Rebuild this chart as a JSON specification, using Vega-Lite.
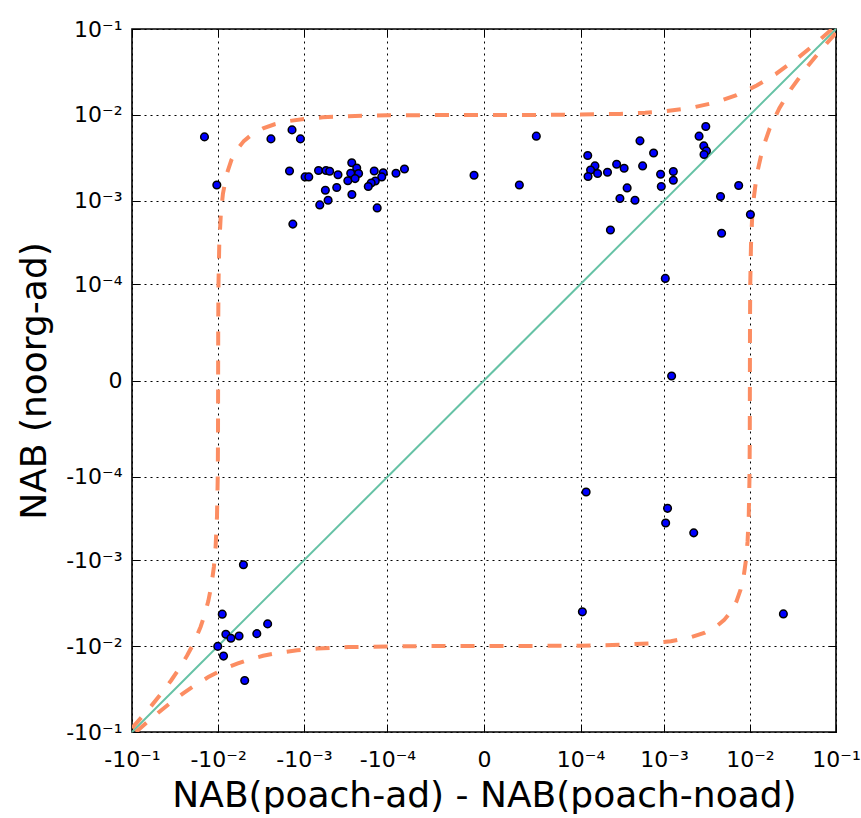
{
  "$schema": "https://vega.github.io/schema/vega-lite/v6.json",
  "width": 704,
  "height": 703,
  "autosize": {"type": "none"},
  "padding": {"left": 132, "top": 29, "right": 25, "bottom": 86},
  "background": "white",
  "config": {
    "view": {"stroke": "black", "strokeWidth": 1.6},
    "axis": {
      "labelFont": "DejaVu Sans",
      "labelFontSize": 22,
      "labelColor": "black",
      "titleFont": "DejaVu Sans",
      "titleFontSize": 36,
      "titleFontWeight": "normal",
      "titleColor": "black",
      "domain": false,
      "tickColor": "black",
      "tickWidth": 1,
      "tickSize": -8,
      "gridColor": "black",
      "gridDash": [2, 4],
      "gridWidth": 1,
      "gridOpacity": 1
    }
  },
  "datasets": {
    "pts": [
      {"x": -0.0144, "y": 0.00556}, {"x": -0.01035, "y": 0.00153}, {"x": -0.00243, "y": 0.00527},
      {"x": -0.00138, "y": 0.00671}, {"x": -0.0011, "y": 0.00527}, {"x": -0.001476, "y": 0.00223},
      {"x": -0.000971, "y": 0.0019}, {"x": -0.000879, "y": 0.0019}, {"x": -0.000675, "y": 0.002254},
      {"x": -0.000551, "y": 0.002254}, {"x": -0.000499, "y": 0.002213}, {"x": -0.000398, "y": 0.002014},
      {"x": -0.000561, "y": 0.001327}, {"x": -0.000412, "y": 0.00143}, {"x": -0.000653, "y": 0.000893},
      {"x": -0.000521, "y": 0.001014}, {"x": -0.000273, "y": 0.00278}, {"x": -0.000238, "y": 0.002415},
      {"x": -0.000226, "y": 0.00208}, {"x": -0.000281, "y": 0.002094}, {"x": -0.000304, "y": 0.001714},
      {"x": -0.000249, "y": 0.001816}, {"x": -0.000272, "y": 0.001185}, {"x": -0.000146, "y": 0.00223},
      {"x": -0.000113, "y": 0.002123}, {"x": -0.000118, "y": 0.0019}, {"x": -0.0001416, "y": 0.001703},
      {"x": -0.000159, "y": 0.001614}, {"x": -0.0001726, "y": 0.001466}, {"x": -0.0001343, "y": 0.000824},
      {"x": -0.000078, "y": 0.002094}, {"x": -0.0000605, "y": 0.00235}, {"x": -0.0000025, "y": 0.001986},
      {"x": 0.0000129, "y": 0.00153}, {"x": 0.000025, "y": 0.00567}, {"x": 0.000123, "y": 0.003373},
      {"x": 0.000151, "y": 0.002553}, {"x": 0.0001334, "y": 0.00229}, {"x": 0.0001241, "y": 0.00192},
      {"x": 0.0001626, "y": 0.00208}, {"x": 0.0002143, "y": 0.002153}, {"x": 0.000276, "y": 0.002667},
      {"x": 0.000339, "y": 0.0024}, {"x": 0.000522, "y": 0.005}, {"x": 0.000755, "y": 0.003614},
      {"x": 0.000561, "y": 0.002553}, {"x": 0.000368, "y": 0.001413}, {"x": 0.000302, "y": 0.001062},
      {"x": 0.000456, "y": 0.001014}, {"x": 0.0002325, "y": 0.000452}, {"x": 0.000912, "y": 0.00204},
      {"x": 0.000929, "y": 0.001469}, {"x": 0.001285, "y": 0.0022}, {"x": 0.001285, "y": 0.001738},
      {"x": 0.00307, "y": 0.00736}, {"x": 0.002565, "y": 0.00567}, {"x": 0.00291, "y": 0.004365},
      {"x": 0.003126, "y": 0.00382}, {"x": 0.00293, "y": 0.003467}, {"x": 0.00741, "y": 0.001507},
      {"x": 0.00456, "y": 0.00112}, {"x": 0.01014, "y": 0.00069}, {"x": 0.00469, "y": 0.000414},
      {"x": 0.001035, "y": 0.0001178}, {"x": 0.001227, "y": 0.00000105}, {"x": 0.0001175, "y": -0.0001538},
      {"x": 0.0011, "y": -0.000243}, {"x": 0.001045, "y": -0.000364}, {"x": 0.002223, "y": -0.000476},
      {"x": 0.0001055, "y": -0.004}, {"x": 0.0245, "y": -0.00423}, {"x": -0.00508, "y": -0.00113},
      {"x": -0.00895, "y": -0.00426}, {"x": -0.00813, "y": -0.0073}, {"x": -0.0071, "y": -0.00813},
      {"x": -0.00571, "y": -0.00764}, {"x": -0.00355, "y": -0.00718}, {"x": -0.002655, "y": -0.00553},
      {"x": -0.0101, "y": -0.0101}, {"x": -0.00865, "y": -0.0131}, {"x": -0.00491, "y": -0.0252},
      {"x": -0.00135, "y": 0.000531}
    ],
    "curves": [
      {"c": "A", "x": -0.1, "y": -0.09}, {"c": "A", "x": -0.08, "y": -0.07}, {"c": "A", "x": -0.06, "y": -0.05},
      {"c": "A", "x": -0.045, "y": -0.035}, {"c": "A", "x": -0.035, "y": -0.025}, {"c": "A", "x": -0.028, "y": -0.018},
      {"c": "A", "x": -0.023, "y": -0.013}, {"c": "A", "x": -0.02, "y": -0.01}, {"c": "A", "x": -0.018, "y": -0.008},
      {"c": "A", "x": -0.016, "y": -0.006}, {"c": "A", "x": -0.0145, "y": -0.0045}, {"c": "A", "x": -0.013, "y": -0.003},
      {"c": "A", "x": -0.012, "y": -0.002}, {"c": "A", "x": -0.0112, "y": -0.0012}, {"c": "A", "x": -0.0107, "y": -0.0007},
      {"c": "A", "x": -0.0103, "y": -0.0003}, {"c": "A", "x": -0.0101, "y": -0.0001}, {"c": "A", "x": -0.01003, "y": -0.00003},
      {"c": "A", "x": -0.01, "y": 0}, {"c": "A", "x": -0.00997, "y": 0.00003}, {"c": "A", "x": -0.0099, "y": 0.0001},
      {"c": "A", "x": -0.0097, "y": 0.0003}, {"c": "A", "x": -0.0093, "y": 0.0007}, {"c": "A", "x": -0.0088, "y": 0.0012},
      {"c": "A", "x": -0.008, "y": 0.002}, {"c": "A", "x": -0.007, "y": 0.003}, {"c": "A", "x": -0.006, "y": 0.004},
      {"c": "A", "x": -0.005, "y": 0.005}, {"c": "A", "x": -0.004, "y": 0.006}, {"c": "A", "x": -0.003, "y": 0.007},
      {"c": "A", "x": -0.0022, "y": 0.0078}, {"c": "A", "x": -0.0015, "y": 0.0085}, {"c": "A", "x": -0.001, "y": 0.009},
      {"c": "A", "x": -0.0006, "y": 0.0094}, {"c": "A", "x": -0.0003, "y": 0.0097}, {"c": "A", "x": -0.0001, "y": 0.0099},
      {"c": "A", "x": -0.00003, "y": 0.00997}, {"c": "A", "x": 0, "y": 0.01}, {"c": "A", "x": 0.00003, "y": 0.01003},
      {"c": "A", "x": 0.0001, "y": 0.0101}, {"c": "A", "x": 0.0003, "y": 0.0103}, {"c": "A", "x": 0.0006, "y": 0.0106},
      {"c": "A", "x": 0.001, "y": 0.011}, {"c": "A", "x": 0.002, "y": 0.012}, {"c": "A", "x": 0.004, "y": 0.014},
      {"c": "A", "x": 0.007, "y": 0.017}, {"c": "A", "x": 0.012, "y": 0.022}, {"c": "A", "x": 0.02, "y": 0.03},
      {"c": "A", "x": 0.035, "y": 0.045}, {"c": "A", "x": 0.055, "y": 0.065}, {"c": "A", "x": 0.075, "y": 0.085},
      {"c": "A", "x": 0.09, "y": 0.1},
      {"c": "B", "y": -0.1, "x": -0.09}, {"c": "B", "y": -0.08, "x": -0.07}, {"c": "B", "y": -0.06, "x": -0.05},
      {"c": "B", "y": -0.045, "x": -0.035}, {"c": "B", "y": -0.035, "x": -0.025}, {"c": "B", "y": -0.028, "x": -0.018},
      {"c": "B", "y": -0.023, "x": -0.013}, {"c": "B", "y": -0.02, "x": -0.01}, {"c": "B", "y": -0.018, "x": -0.008},
      {"c": "B", "y": -0.016, "x": -0.006}, {"c": "B", "y": -0.0145, "x": -0.0045}, {"c": "B", "y": -0.013, "x": -0.003},
      {"c": "B", "y": -0.012, "x": -0.002}, {"c": "B", "y": -0.0112, "x": -0.0012}, {"c": "B", "y": -0.0107, "x": -0.0007},
      {"c": "B", "y": -0.0103, "x": -0.0003}, {"c": "B", "y": -0.0101, "x": -0.0001}, {"c": "B", "y": -0.01003, "x": -0.00003},
      {"c": "B", "y": -0.01, "x": 0}, {"c": "B", "y": -0.00997, "x": 0.00003}, {"c": "B", "y": -0.0099, "x": 0.0001},
      {"c": "B", "y": -0.0097, "x": 0.0003}, {"c": "B", "y": -0.0093, "x": 0.0007}, {"c": "B", "y": -0.0088, "x": 0.0012},
      {"c": "B", "y": -0.008, "x": 0.002}, {"c": "B", "y": -0.007, "x": 0.003}, {"c": "B", "y": -0.006, "x": 0.004},
      {"c": "B", "y": -0.005, "x": 0.005}, {"c": "B", "y": -0.004, "x": 0.006}, {"c": "B", "y": -0.003, "x": 0.007},
      {"c": "B", "y": -0.0022, "x": 0.0078}, {"c": "B", "y": -0.0015, "x": 0.0085}, {"c": "B", "y": -0.001, "x": 0.009},
      {"c": "B", "y": -0.0006, "x": 0.0094}, {"c": "B", "y": -0.0003, "x": 0.0097}, {"c": "B", "y": -0.0001, "x": 0.0099},
      {"c": "B", "y": -0.00003, "x": 0.00997}, {"c": "B", "y": 0, "x": 0.01}, {"c": "B", "y": 0.00003, "x": 0.01003},
      {"c": "B", "y": 0.0001, "x": 0.0101}, {"c": "B", "y": 0.0003, "x": 0.0103}, {"c": "B", "y": 0.0006, "x": 0.0106},
      {"c": "B", "y": 0.001, "x": 0.011}, {"c": "B", "y": 0.002, "x": 0.012}, {"c": "B", "y": 0.004, "x": 0.014},
      {"c": "B", "y": 0.007, "x": 0.017}, {"c": "B", "y": 0.012, "x": 0.022}, {"c": "B", "y": 0.02, "x": 0.03},
      {"c": "B", "y": 0.035, "x": 0.045}, {"c": "B", "y": 0.055, "x": 0.065}, {"c": "B", "y": 0.075, "x": 0.085},
      {"c": "B", "y": 0.09, "x": 0.1}
    ],
    "diag": [{"x": -0.1, "y": -0.1}, {"x": 0, "y": 0}, {"x": 0.1, "y": 0.1}]
  },
  "resolve": {"axis": {"x": "independent", "y": "independent"}},
  "layer": [
    {
      "data": {"name": "diag"},
      "mark": {"type": "line", "color": "#66c2a5", "strokeWidth": 2},
      "encoding": {
        "x": {
          "field": "x", "type": "quantitative",
          "scale": {"type": "symlog", "constant": 0.0000082, "domain": [-0.1, 0.1], "nice": false, "zero": false},
          "axis": {
            "orient": "bottom",
            "values": [-0.1, -0.01, -0.001, -0.0001, 0, 0.0001, 0.001, 0.01, 0.1],
            "labelExpr": "datum.value == 0 ? '0' : (datum.value < 0 ? '-10' : '10') + (abs(datum.value) > 0.05 ? '⁻¹' : abs(datum.value) > 0.005 ? '⁻²' : abs(datum.value) > 0.0005 ? '⁻³' : '⁻⁴')",
            "grid": true,
            "labelPadding": 25,
            "labelFlush": false,
            "labelOverlap": false,
            "title": "NAB(poach-ad) - NAB(poach-noad)",
            "titlePadding": 8
          }
        },
        "y": {
          "field": "y", "type": "quantitative",
          "scale": {"type": "symlog", "constant": 0.0000082, "domain": [-0.1, 0.1], "nice": false, "zero": false},
          "axis": {
            "orient": "left",
            "values": [-0.1, -0.01, -0.001, -0.0001, 0, 0.0001, 0.001, 0.01, 0.1],
            "labelExpr": "datum.value == 0 ? '0' : (datum.value < 0 ? '-10' : '10') + (abs(datum.value) > 0.05 ? '⁻¹' : abs(datum.value) > 0.005 ? '⁻²' : abs(datum.value) > 0.0005 ? '⁻³' : '⁻⁴')",
            "grid": true,
            "labelPadding": 18,
            "labelFlush": false,
            "labelOverlap": false,
            "title": "NAB (noorg-ad)",
            "titlePadding": 12
          }
        }
      }
    },
    {
      "data": {"name": "curves"},
      "mark": {"type": "line", "color": "#fc8d62", "strokeWidth": 4, "strokeDash": [14, 15], "clip": true},
      "encoding": {
        "x": {"field": "x", "type": "quantitative", "axis": null},
        "y": {"field": "y", "type": "quantitative", "axis": null},
        "detail": {"field": "c", "type": "nominal"}
      }
    },
    {
      "data": {"name": "pts"},
      "mark": {"type": "point", "shape": "circle", "filled": true, "fill": "#0000ff", "stroke": "black", "strokeWidth": 1.5, "size": 58, "opacity": 1},
      "encoding": {
        "x": {"field": "x", "type": "quantitative", "axis": {"orient": "top", "values": [-0.1, -0.01, -0.001, -0.0001, 0, 0.0001, 0.001, 0.01, 0.1], "labels": false, "grid": false, "title": null}},
        "y": {"field": "y", "type": "quantitative", "axis": {"orient": "right", "values": [-0.1, -0.01, -0.001, -0.0001, 0, 0.0001, 0.001, 0.01, 0.1], "labels": false, "grid": false, "title": null}}
      }
    }
  ]
}
